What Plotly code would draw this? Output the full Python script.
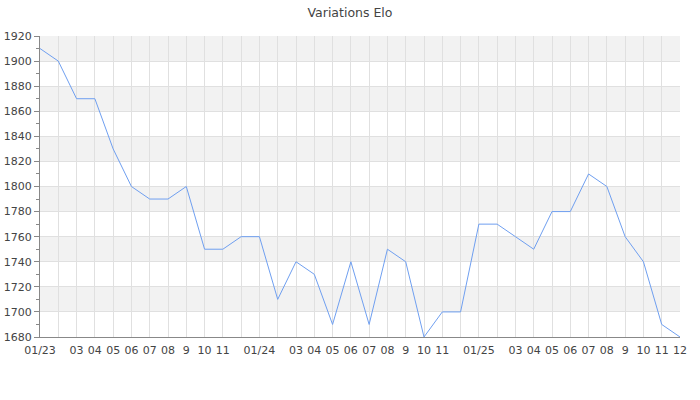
import plotly.graph_objects as go

months = ["01/23", "02", "03", "04", "05", "06", "07", "08", "9", "10", "11", "12",
          "01/24", "02", "03", "04", "05", "06", "07", "08", "9", "10", "11", "12",
          "01/25", "02", "03", "04", "05", "06", "07", "08", "9", "10", "11", "12"]
shown_labels = ["01/23", "", "03", "04", "05", "06", "07", "08", "9", "10", "11", "",
                "01/24", "", "03", "04", "05", "06", "07", "08", "9", "10", "11", "",
                "01/25", "", "03", "04", "05", "06", "07", "08", "9", "10", "11", "12"]
elo = [1910, 1900, 1870, 1870, 1830, 1800, 1790, 1790, 1800, 1750, 1750, 1760,
       1760, 1710, 1740, 1730, 1690, 1740, 1690, 1750, 1740, 1680, 1700, 1700,
       1770, 1770, 1760, 1750, 1780, 1780, 1810, 1800, 1760, 1740, 1690, 1680]
y_ticks = list(range(1680, 1921, 20))
bands = [(1700, 1720), (1740, 1760), (1780, 1800), (1820, 1840), (1860, 1880), (1900, 1920)]

x = list(range(len(months)))

fig = go.Figure()
fig.add_trace(go.Scatter(x=x, y=elo, mode="lines",
                         line=dict(color="#6f9ff0", width=1),
                         hoverinfo="y", showlegend=False))

shapes = []
for lo, hi in bands:
    shapes.append(dict(type="rect", xref="paper", yref="y", x0=0, x1=1, y0=lo, y1=hi,
                       fillcolor="#f2f2f2", line=dict(width=0), layer="below"))

fig.update_layout(
    width=700, height=400,
    margin=dict(l=40, r=20, t=36, b=63),
    paper_bgcolor="white", plot_bgcolor="white",
    font=dict(family="DejaVu Sans", size=11, color="#444"),
    title=dict(text="Variations Elo", x=0.5, xanchor="center", xref="container",
               y=0.96875, yref="container", yanchor="middle", automargin=False,
               font=dict(family="DejaVu Sans", size=12.5, color="#444")),
    shapes=shapes,
    xaxis=dict(range=[0, len(months) - 1], tickmode="array", tickvals=x, ticktext=shown_labels,
               showgrid=True, gridcolor="#e0e0e0", gridwidth=1,
               showline=True, linecolor="#888", linewidth=1,
               ticks="outside", ticklen=3, tickcolor="rgba(0,0,0,0)",
               zeroline=False, tickangle=0, automargin=False),
    yaxis=dict(range=[1680, 1920], tickmode="array", tickvals=y_ticks,
               showgrid=True, gridcolor="#e0e0e0", gridwidth=1,
               showline=True, linecolor="#888", linewidth=1,
               ticks="outside", ticklen=5, tickcolor="#888",
               minor=dict(dtick=10, tick0=1680, ticks="outside", ticklen=3, tickcolor="#888", showgrid=False),
               zeroline=False, automargin=False),
)

fig.write_html("out.html", config={"displayModeBar": False},
               post_script="document.body.style.margin='0';")
